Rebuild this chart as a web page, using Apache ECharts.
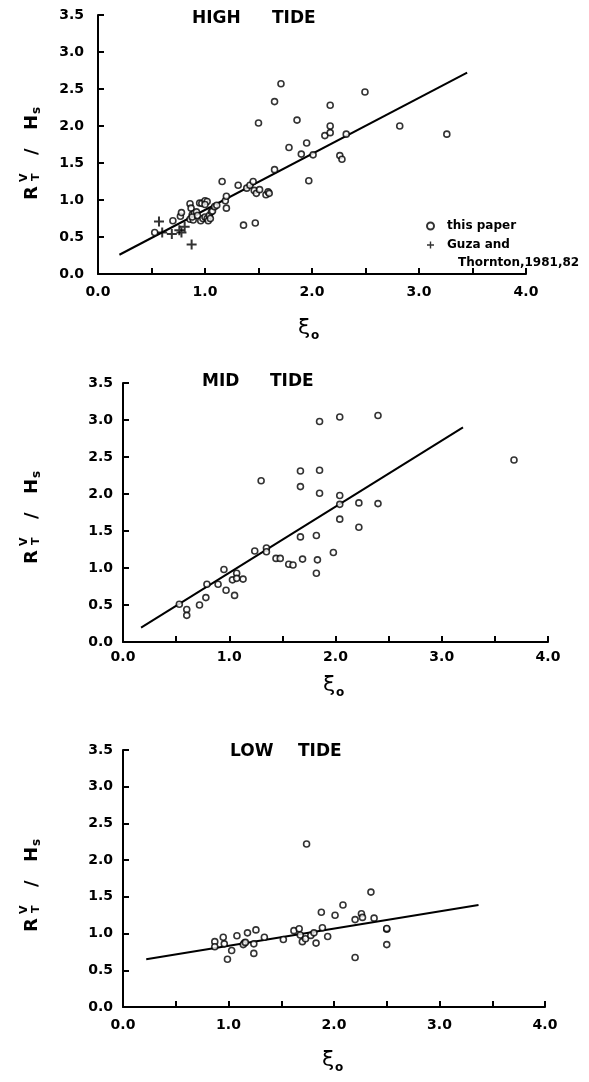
<!DOCTYPE html>
<html><head><meta charset="utf-8">
<script src="https://cdn.jsdelivr.net/npm/echarts@6/dist/echarts.min.js"></script>
<style>html,body{margin:0;padding:0;background:#fff}#c{width:589px;height:1082px}</style>
</head><body><div id="c"></div>
<script>
const xTickLabels = ['0.0','1.0','2.0','3.0','4.0'];
const yTickLabels = ['0.0','0.5','1.0','1.5','2.0','2.5','3.0','3.5'];
const panelTitles = [['HIGH','TIDE'],['MID','TIDE'],['LOW','TIDE']];
const legendNames = ['this paper','Guza and Thornton, 1981,82'];

const highPaper = [
 [0.53,0.56],[0.70,0.72],[0.77,0.78],[0.78,0.83],[0.86,0.95],[0.87,0.89],[0.88,0.80],[0.86,0.74],[0.89,0.73],
 [0.90,0.82],[0.92,0.84],[0.88,0.77],[0.93,0.79],[0.96,0.72],[0.95,0.96],[0.97,0.955],[1.0,0.99],[1.02,0.98],[1.0,0.94],
 [0.98,0.75],[1.0,0.77],[1.02,0.75],[1.03,0.72],[1.04,0.79],[1.05,0.75],[1.06,0.84],[1.07,0.85],
 [1.09,0.91],[1.11,0.93],[1.16,1.25],[1.19,0.99],[1.20,1.05],[1.20,0.89],
 [1.31,1.20],[1.36,0.66],[1.39,1.16],[1.42,1.20],[1.45,1.25],[1.46,1.13],[1.48,1.09],[1.47,0.69],[1.50,2.04],[1.51,1.14],
 [1.57,1.07],[1.59,1.11],[1.60,1.09],[1.65,2.33],[1.65,1.41],[1.71,2.57],[1.785,1.71],[1.86,2.08],[1.90,1.62],
 [1.95,1.77],[1.97,1.26],[2.01,1.61],[2.12,1.87],[2.17,1.91],[2.17,2.0],[2.17,2.28],[2.26,1.60],[2.28,1.55],
 [2.32,1.89],[2.495,2.46],[2.82,2.0],[3.26,1.89]
];
const highGuza = [[0.57,0.71],[0.60,0.56],[0.69,0.54],[0.76,0.59],[0.78,0.56],[0.81,0.64],[0.875,0.40]];
const highFit = [[0.2,0.26],[3.45,2.72]];

const midPaper = [
 [0.53,0.51],[0.60,0.44],[0.60,0.36],[0.72,0.50],[0.78,0.60],[0.79,0.78],[0.895,0.78],[0.95,0.98],[0.97,0.70],
 [1.03,0.84],[1.05,0.63],[1.07,0.93],[1.07,0.86],[1.13,0.85],[1.24,1.23],[1.30,2.18],[1.35,1.27],[1.35,1.22],
 [1.44,1.13],[1.48,1.13],[1.56,1.05],[1.60,1.04],[1.67,2.31],[1.67,2.10],[1.67,1.42],[1.69,1.12],[1.82,1.44],
 [1.83,1.11],[1.82,0.93],[1.85,2.98],[1.85,2.32],[1.85,2.01],[1.98,1.21],[2.04,3.04],[2.04,1.98],[2.04,1.86],
 [2.04,1.66],[2.22,1.88],[2.22,1.55],[2.40,3.06],[2.40,1.87],[3.68,2.46]
];
const midFit = [[0.17,0.195],[3.20,2.90]];

const lowPaper = [
 [0.87,0.89],[0.87,0.82],[0.95,0.95],[0.96,0.86],[0.99,0.65],[1.03,0.77],[1.08,0.97],[1.15,0.87],[1.14,0.85],
 [1.16,0.88],[1.18,1.01],[1.24,0.86],[1.24,0.73],[1.26,1.05],[1.34,0.95],[1.52,0.92],[1.62,1.04],[1.67,1.065],
 [1.68,0.98],[1.70,0.89],[1.73,0.93],[1.78,0.975],[1.81,1.01],[1.83,0.87],[1.74,2.22],[1.88,1.29],[1.89,1.08],
 [1.94,0.96],[2.01,1.25],[2.085,1.39],[2.20,0.675],[2.20,1.19],[2.26,1.27],[2.27,1.22],[2.35,1.565],[2.38,1.21],
 [2.50,1.06],[2.50,1.07],[2.50,0.85]
];
const lowFit = [[0.22,0.65],[3.37,1.39]];

const FONT = 'DejaVu Sans';
const crossPath = 'path://M4,0H6V4H10V6H6V10H4V6H0V4H4Z';
const grids = [
  {left:98, top:15, width:428, height:259},
  {left:123, top:383, width:425, height:259},
  {left:123, top:750, width:422, height:257}
];
const yLabelMargins = [14, 10, 10];
const xLabelMargins = [11, 8, 11];

function xAxisFor(i){
  return {type:'value', gridIndex:i, min:0, max:4, interval:0.5,
    axisLine:{lineStyle:{color:'#000', width:2}},
    axisTick:{inside:true, length:6, lineStyle:{color:'#000', width:2}},
    splitLine:{show:false},
    axisLabel:{margin:xLabelMargins[i], color:'#000', fontFamily:FONT, fontWeight:'bold', fontSize:14,
      formatter: v => Math.abs(v-Math.round(v))<1e-6 ? xTickLabels[Math.round(v)] : ''}};
}
function yAxisFor(i){
  return {type:'value', gridIndex:i, min:0, max:3.5, interval:0.5,
    axisLine:{show:true, lineStyle:{color:'#000', width:2}},
    axisTick:{show:true, inside:true, length:6, lineStyle:{color:'#000', width:2}},
    splitLine:{show:false},
    axisLabel:{margin:yLabelMargins[i], color:'#000', fontFamily:FONT, fontWeight:'bold', fontSize:14,
      formatter: v => yTickLabels[Math.round(v*2)]}};
}
const circleStyle = {color:'#fff', borderColor:'#000', borderWidth:1.6};
function paperSeries(i, data){
  return {name:legendNames[0], type:'scatter', xAxisIndex:i, yAxisIndex:i, data, symbol:'circle', symbolSize:6,
    itemStyle:circleStyle, z:3};
}
function fitSeries(i, data){
  return {name:'fit', type:'line', xAxisIndex:i, yAxisIndex:i, data, showSymbol:false, symbol:'none',
    lineStyle:{color:'#000', width:2}, z:2};
}
function yName(x, yBottom){
  const f = (s, w) => (w||'bold')+' '+s+'px '+FONT;
  const t = (text, lx, ly, size) => ({type:'text', x:lx, y:ly,
    style:{text, font:f(size), fill:'#000', textAlign:'left', textVerticalAlign:'bottom'}});
  return {type:'group', x, y:yBottom, rotation:Math.PI/2, children:[
    t('R',0,2,18), t('V',18,-9,11), t('T',19,3,11), t('/',45,2,18), t('H',70,2,18), t('s',86,4,12)
  ]};
}
function xiName(x, yMid){
  return {type:'group', x, y:yMid, children:[
    {type:'text', x:0, y:0, style:{text:'ξ', font:'22px '+FONT, fill:'#000', textVerticalAlign:'middle'}},
    {type:'text', x:13, y:8, style:{text:'o', font:'bold 12px '+FONT, fill:'#000', textVerticalAlign:'middle'}}
  ]};
}
function title(words, x1, x2, yMid){
  const st = t => ({text:t, font:'bold 17px '+FONT, fill:'#000', textVerticalAlign:'middle'});
  return [{type:'text', x:x1, y:yMid, style:st(words[0])}, {type:'text', x:x2, y:yMid, style:st(words[1])}];
}

const chart = echarts.init(document.getElementById('c'), null, {renderer:'canvas'});
chart.setOption({
  animation:false,
  backgroundColor:'#fff',
  grid: grids,
  xAxis: [0,1,2].map(xAxisFor),
  yAxis: [0,1,2].map(yAxisFor),
  legend: {orient:'vertical', left:421, top:214, itemWidth:7, itemHeight:7, itemGap:5,
    data:legendNames, selectedMode:false,
    formatter: n => n===legendNames[0] ? 'this paper' : 'Guza and',
    textStyle:{fontFamily:FONT, fontWeight:'bold', fontSize:12, color:'#000', lineHeight:14, padding:[0,0,0,8]}},
  series: [
    paperSeries(0, highPaper),
    {name:legendNames[1], type:'scatter', xAxisIndex:0, yAxisIndex:0, data:highGuza, symbol:crossPath, symbolSize:10,
      itemStyle:{color:'#000'}, z:3},
    fitSeries(0, highFit),
    paperSeries(1, midPaper),
    fitSeries(1, midFit),
    paperSeries(2, lowPaper),
    fitSeries(2, lowFit)
  ],
  graphic: [
    ...title(panelTitles[0], 192, 272, 19),
    ...title(panelTitles[1], 202, 270, 382),
    ...title(panelTitles[2], 230, 298, 752),
    {type:'text', x:458, y:263, style:{text:'Thornton,1981,82', font:'bold 12px '+FONT, fill:'#000', textVerticalAlign:'middle'}},
    yName(39, 200), yName(39, 564), yName(39, 932),
    xiName(298, 328), xiName(323, 685), xiName(322, 1060)
  ]
});
</script></body></html>
